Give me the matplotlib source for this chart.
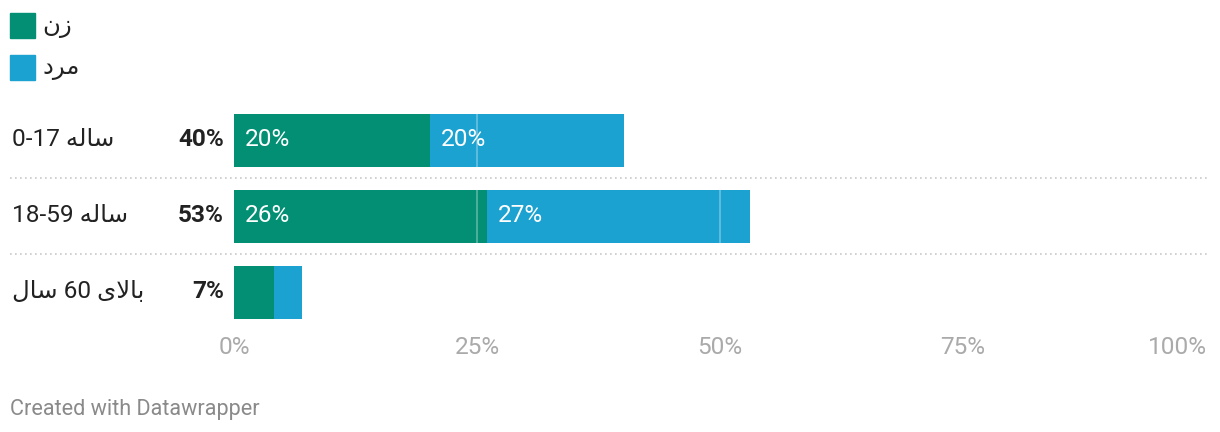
import matplotlib
matplotlib.use("Agg")
import matplotlib.pyplot as plt
from matplotlib.transforms import blended_transform_factory
from matplotlib.lines import Line2D
from matplotlib.patches import Rectangle

plt.rcParams['font.family'] = ['Roboto', 'DejaVu Sans']

# Persian labels are written in visual order with presentation forms,
# since matplotlib does no shaping / bidi on its own.
SALEH = "\uFEEA\uFEDF\uFE8E\uFEB3"          # ساله
SAL = "\uFEDD\uFE8E\uFEB3"                  # سال
BALAYE = "\uFEEF\uFEFB\uFE8E\uFE91"         # بالای
categories = ["0-17 " + SALEH, "18-59 " + SALEH, SAL + " 60 " + BALAYE]
women = [20.2, 26.0, 4.1]
men = [19.9, 27.1, 2.9]
totals = ["40%", "53%", "7%"]
women_labels = ["20%", "26%", ""]
men_labels = ["20%", "27%", ""]
legend_names = ["\uFEE5\uFEAF", "\uFEA9\uFEAE\uFEE3"]   # زن , مرد
ticks = [0, 25, 50, 75, 100]
tick_labels = ["0%", "25%", "50%", "75%", "100%"]

GREEN = "#028f74"
BLUE = "#1ba2d0"
W, H = 1220, 432
FS = 17.6

fig = plt.figure(figsize=(W / 100, H / 100), dpi=100)
ax = fig.add_axes([234 / W, (H - 330) / H, 972 / W, 228 / H])
ax.set_xlim(0, 100)
ax.set_ylim(2.5, -0.5)
ax.axis("off")

ypos = list(range(len(categories)))
bh = 53 / 76
ax.barh(ypos, women, height=bh, color=GREEN, zorder=2)
ax.barh(ypos, men, left=women, height=bh, color=BLUE, zorder=2)

# light grid lines show through the bars only
for t in [25, 50, 75]:
    ax.axvline(t, color="white", alpha=0.35, lw=1.2, zorder=3)

for i in ypos:
    if women_labels[i]:
        ax.text(1.1, i, women_labels[i], color="white", fontsize=FS,
                va="center", ha="left", zorder=4)
    if men_labels[i]:
        ax.text(women[i] + 1.1, i, men_labels[i], color="white", fontsize=FS,
                va="center", ha="left", zorder=4)

trans = blended_transform_factory(fig.transFigure, ax.transData)
for i, (cat, tot) in enumerate(zip(categories, totals)):
    fig.text(12 / W, i, cat, transform=trans, fontsize=FS, color="#222222",
             va="center", ha="left")
    fig.text(224 / W, i, tot, transform=trans, fontsize=FS, color="#222222",
             fontweight="bold", va="center", ha="right")

for y in [0.5, 1.5]:
    fig.add_artist(Line2D([10 / W, 1208 / W], [y, y], transform=trans,
                          color="#c8c8c8", lw=1.2, linestyle=(0, (1, 2))))

tick_trans = blended_transform_factory(ax.transData, fig.transFigure)
for t, lab in zip(ticks, tick_labels):
    ha = "right" if t == 100 else "center"
    xt = t + 0.05 if t == 100 else t
    ax.text(xt, (H - 347) / H, lab, transform=tick_trans, fontsize=FS,
            color="#aaaaaa", ha=ha, va="center")

# legend
for k, (name, col) in enumerate(zip(legend_names, [GREEN, BLUE])):
    top = 13 + 42 * k
    fig.add_artist(Rectangle((10 / W, (H - top - 25) / H), 25 / W, 25 / H,
                             transform=fig.transFigure, color=col))
    fig.text(42 / W, (H - top - 13) / H, name, fontsize=FS, color="#222222",
             va="center", ha="left")

fig.text(10 / W, (H - 409) / H, "Created with Datawrapper", fontsize=15.6,
         color="#8a8a8a", va="center", ha="left")

fig.savefig("out.png", dpi=100)
